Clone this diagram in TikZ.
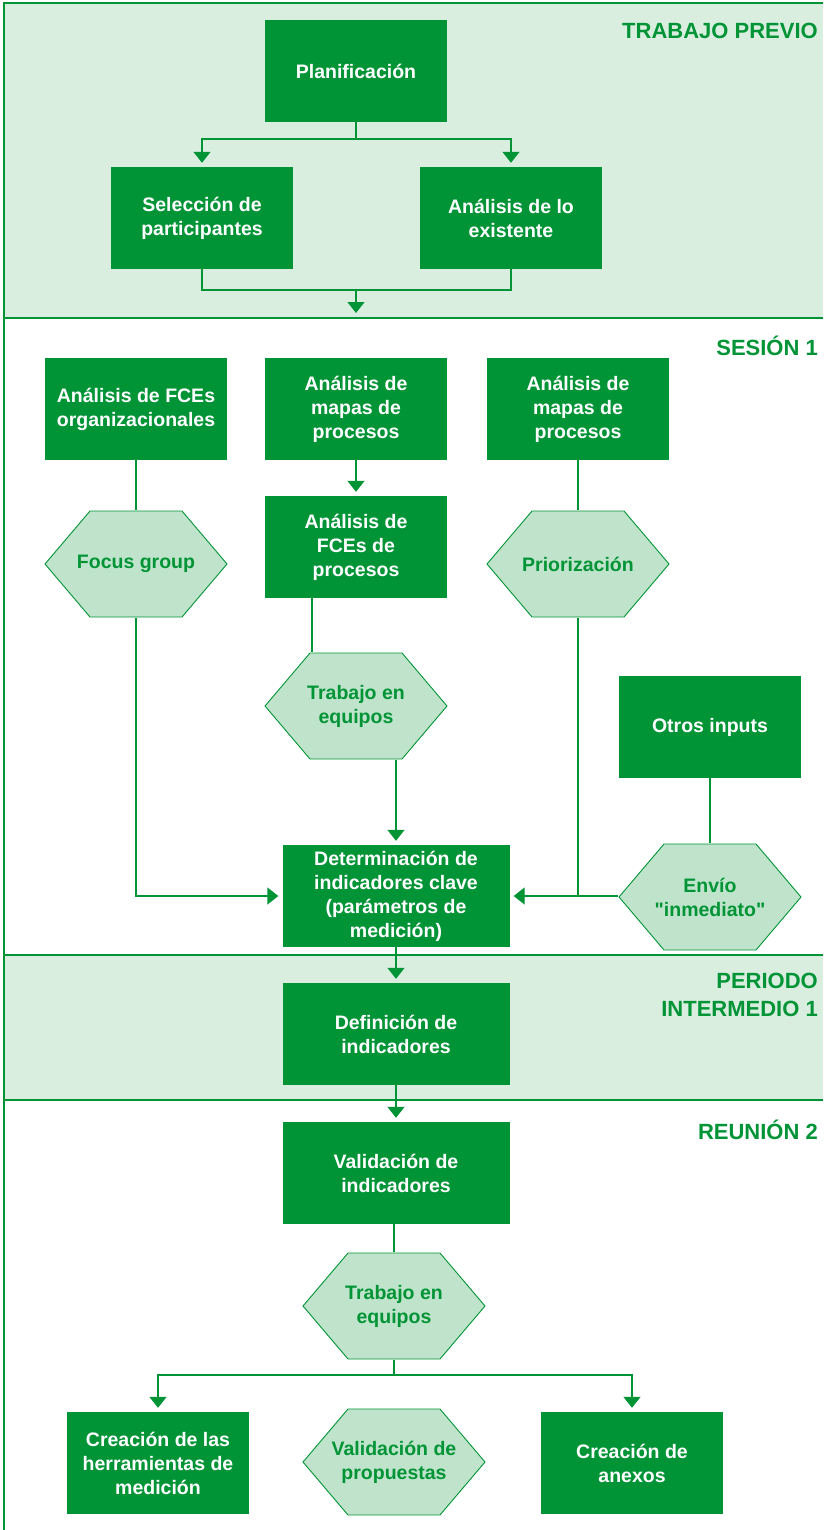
\documentclass[tikz,border=0pt]{standalone}
\usepackage{fontspec}
\setmainfont{Liberation Sans}
\usetikzlibrary{arrows.meta}
\definecolor{ftgreen}{RGB}{0,148,54}
\definecolor{ftband}{RGB}{218,238,224}
\definecolor{fthex}{RGB}{192,228,203}

\begin{document}
\begin{tikzpicture}[x=1pt,y=-1pt,>={Triangle[length=11pt,width=17pt]},
  box/.style={fill=ftgreen,text=white,minimum width=182pt,minimum height=102pt,inner sep=2pt,align=center,font=\fontsize{19.5}{24}\selectfont\bfseries},
  widebox/.style={box,minimum width=227pt},
  hexa/.style={minimum width=184pt,minimum height=108pt,inner sep=0pt,text=ftgreen,align=center,font=\fontsize{19.5}{24}\selectfont\bfseries,
    path picture={\draw[ftgreen,fill=fthex,line width=0.9pt]
      ([xshift=1pt]path picture bounding box.west)
      -- ([xshift=46pt,yshift=-1pt]path picture bounding box.north west)
      -- ([xshift=-46pt,yshift=-1pt]path picture bounding box.north east)
      -- ([xshift=-1pt]path picture bounding box.east)
      -- ([xshift=-46pt,yshift=1pt]path picture bounding box.south east)
      -- ([xshift=46pt,yshift=1pt]path picture bounding box.south west) -- cycle;}},
  phase/.style={text=ftgreen,inner sep=0pt,align=right,font=\fontsize{22}{28}\selectfont\bfseries},
  link/.style={draw=ftgreen,line width=1.4pt},
  flow/.style={link,->,shorten >=4pt}]
  \useasboundingbox (0,0) rectangle (823,1530);

  % bands
  \fill[ftband] (4,3) rectangle (823,318);
  \fill[ftband] (4,955) rectangle (823,1100);
  \draw[ftgreen,line width=1.5pt] (823,3) -- (4,3) -- (4,1530);
  \draw[ftgreen,line width=1.5pt] (4,318) -- (823,318);
  \draw[ftgreen,line width=1.5pt] (4,955) -- (823,955);
  \draw[ftgreen,line width=1.5pt] (4,1100) -- (823,1100);

  \node[phase,anchor=base east] (tprev) at (818,39) {TRABAJO PREVIO};
  \node[phase,anchor=base east] (ses1) at (818,355) {SESIÓN 1};
  \node[phase,anchor=north east] (inter1) at (818,973) {PERIODO\\INTERMEDIO 1};
  \node[phase,anchor=base east] (reu2) at (818,1139) {REUNIÓN 2};

  % trabajo previo
  \node[box] (plan) at (356,71) {Planificación};
  \node[box] (sel) at (202,218) {Selección de\\participantes};
  \node[box] (exist) at (511,218) {Análisis de lo\\existente};
  \coordinate (split1) at (356,139);
  \coordinate (join1) at (356,290);
  \coordinate (enter1) at (356,317);
  \draw[link] (plan.south) -- (split1);
  \draw[flow] (split1) -| (sel.north);
  \draw[flow] (split1) -| (exist.north);
  \draw[link] (sel.south) |- (join1);
  \draw[link] (exist.south) |- (join1);
  \draw[flow] (join1) -- (enter1);

  % sesion 1
  \node[box] (fceorg) at (136,409) {Análisis de FCEs\\organizacionales};
  \node[box] (mapa1) at (356,409) {Análisis de\\mapas de\\procesos};
  \node[box] (mapa2) at (578,409) {Análisis de\\mapas de\\procesos};
  \node[hexa] (focus) at (136,564) {Focus group};
  \node[box] (fceproc) at (356,547) {Análisis de\\FCEs de\\procesos};
  \node[hexa] (prior) at (578,564) {Priorización};
  \node[hexa] (equipos1) at (356,706) {Trabajo en\\equipos};
  \node[box] (otros) at (710,727) {Otros inputs};
  \node[widebox] (det) at (396,896) {Determinación de\\indicadores clave\\(parámetros de\\medición)};
  \node[hexa] (envio) at (710,897) {Envío\\\textquotedbl inmediato\textquotedbl};
  \draw[flow] (mapa1.south) -- (fceproc.north);
  \draw[link] (fceorg.south) -- (focus.north);
  \draw[link] (mapa2.south) -- (prior.north);
  \draw[link] (otros.south) -- (envio.north);
  \draw[link] ([xshift=-44pt]fceproc.south) -- ([xshift=-44pt]equipos1.north);
  \draw[flow] (equipos1.south -| det.north) -- (det.north);
  \draw[flow] (focus.south) |- (det.west);
  \draw[flow] (envio.west |- det.east) -- (det.east);
  \draw[link] (prior.south) -- (prior.south |- det.east);

  % periodo intermedio y reunion 2
  \node[widebox] (defi) at (396,1034) {Definición de\\indicadores};
  \node[widebox] (vali) at (396,1173) {Validación de\\indicadores};
  \node[hexa] (equipos2) at (394,1306) {Trabajo en\\equipos};
  \node[box] (herram) at (158,1463) {Creación de las\\herramientas de\\medición};
  \node[hexa] (propu) at (394,1462) {Validación de\\propuestas};
  \node[box] (anexos) at (632,1463) {Creación de\\anexos};
  \coordinate (split2) at (394,1375);
  \draw[flow] (det.south) -- (defi.north);
  \draw[flow] (defi.south) -- (vali.north);
  \draw[link] (vali.south -| equipos2.north) -- (equipos2.north);
  \draw[link] (equipos2.south) -- (split2);
  \draw[flow] (split2) -| (herram.north);
  \draw[flow] (split2) -| (anexos.north);
\end{tikzpicture}
\end{document}
